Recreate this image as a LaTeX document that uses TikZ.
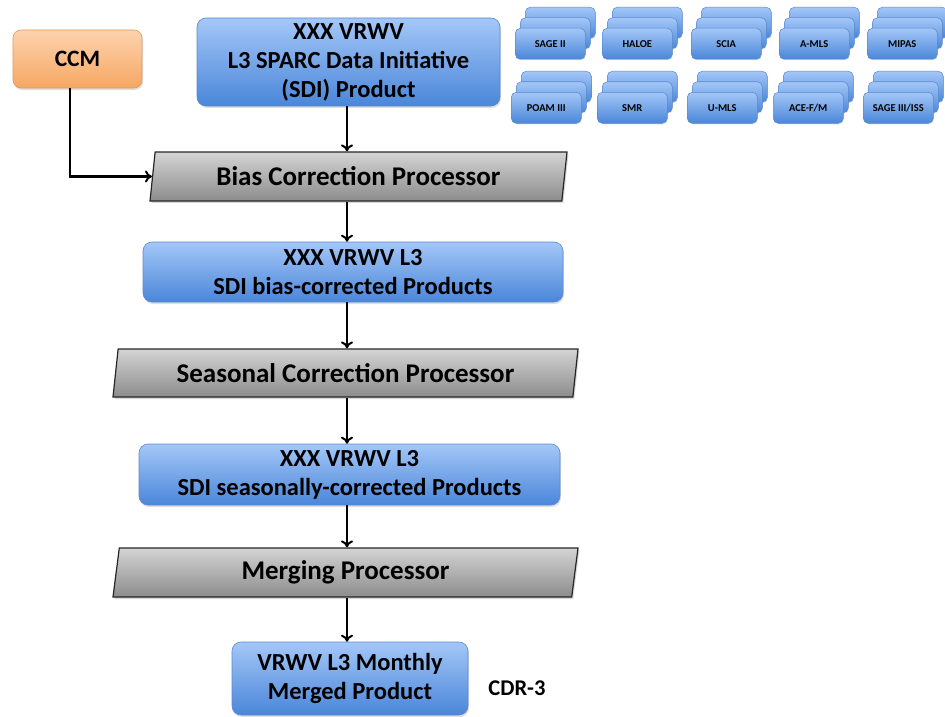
\documentclass[tikz,border=0pt]{standalone}
\usepackage{fontspec}
\setmainfont{Carlito}
\usetikzlibrary{shapes.geometric,arrows.meta,shadows}
\definecolor{bluetop}{HTML}{A4C7F8}
\definecolor{bluebot}{HTML}{4A86D9}
\definecolor{blueline}{HTML}{5A8ACF}
\definecolor{orgtop}{HTML}{FDD3AE}
\definecolor{orgbot}{HTML}{F6A763}
\definecolor{orgline}{HTML}{E59A55}
\definecolor{graytop}{HTML}{D4D4D4}
\definecolor{graybot}{HTML}{8C8C8C}
\tikzset{
  bluebox/.style={draw=blueline, line width=0.6pt, rounded corners=9pt,
    top color=bluetop, bottom color=bluebot, align=center, inner sep=0pt,
    font=\fontsize{24.5}{29}\selectfont\bfseries,
    drop shadow={opacity=0.25, shadow xshift=1pt, shadow yshift=-2pt}},
  orangebox/.style={draw=orgline, line width=0.6pt, rounded corners=8pt,
    top color=orgtop, bottom color=orgbot, align=center, inner sep=0pt,
    font=\fontsize{23.5}{29}\selectfont\bfseries,
    drop shadow={opacity=0.25, shadow xshift=1pt, shadow yshift=-2pt}},
  procbox/.style={trapezium, trapezium left angle=75, trapezium right angle=105,
    trapezium stretches body, draw=black!85, line width=1.2pt,
    top color=graytop, bottom color=graybot, inner sep=0pt,
    font=\fontsize{27}{30}\selectfont\bfseries,
    drop shadow={opacity=0.3, shadow xshift=1.5pt, shadow yshift=-2pt}},
  smallbox/.style={draw=blueline, line width=0.5pt, rounded corners=5pt,
    top color=bluetop, bottom color=bluebot, inner sep=0pt,
    minimum width=70pt, minimum height=31pt,
    font=\fontsize{10.5}{12}\selectfont\bfseries,
    drop shadow={opacity=0.25, shadow xshift=0.6pt, shadow yshift=-1pt}},
  arr/.style={-{To[length=7pt,width=12pt,line width=2pt]}, line width=2.2pt, black},
  lbl/.style={font=\fontsize{22.5}{26}\selectfont\bfseries, inner sep=0pt}
}
\newcommand{\stackbox}[4]{% name, x (front left), y (front top), text
  \node[smallbox, anchor=north west] (#1c) at (#2+10,#3-21) {};
  \node[smallbox, anchor=north west] (#1b) at (#2+5,#3-10.5) {};
  \node[smallbox, anchor=north west] (#1) at (#2,#3) {#4};
}
\begin{document}
\begin{tikzpicture}[x=1pt,y=-1pt]
\useasboundingbox (0,0) rectangle (945,717);
\coordinate (spine) at (347,0);

\node[orangebox, minimum width=129pt, minimum height=58pt] (ccm) at (77.5,59) {CCM};
\node[bluebox, minimum width=303pt, minimum height=88pt] (top) at (348.5,62)
  {XXX VRWV\\L3 SPARC Data Initiative\\(SDI) Product};
\node[procbox, minimum width=417pt, minimum height=49pt] (bias) at (358.5,176.5)
  {Bias Correction Processor};
\node[bluebox, minimum width=420pt, minimum height=60pt] (bc) at (353,272)
  {XXX VRWV L3\\SDI bias-corrected Products};
\node[procbox, minimum width=465pt, minimum height=48pt] (seas) at (345.5,373)
  {Seasonal Correction Processor};
\node[bluebox, minimum width=421pt, minimum height=61pt] (sc) at (349.5,474.5)
  {XXX VRWV L3\\SDI seasonally-corrected Products};
\node[procbox, minimum width=465pt, minimum height=49pt] (merge) at (345.5,572.5)
  {Merging Processor};
\node[bluebox, minimum width=236pt, minimum height=73pt] (final) at (350,678.5)
  {VRWV L3 Monthly\\Merged Product};
\node[lbl] (cdr) at (517,688) {CDR-3};

\stackbox{s1}{515}{28}{SAGE II}
\stackbox{s2}{602}{28}{HALOE}
\stackbox{s3}{691}{28}{SCIA}
\stackbox{s4}{779}{28}{A-MLS}
\stackbox{s5}{867}{28}{MIPAS}
\stackbox{t1}{511}{92}{POAM III}
\stackbox{t2}{597}{92}{SMR}
\stackbox{t3}{687}{92}{U-MLS}
\stackbox{t4}{773}{92}{ACE-F/M}
\stackbox{t5}{863}{92}{SAGE III/ISS}

\draw[arr] (top.south -| spine) -- (bias.north -| spine);
\draw[arr] (bias.south -| spine) -- (bc.north -| spine);
\draw[arr] (bc.south -| spine) -- (seas.north -| spine);
\draw[arr] (seas.south -| spine) -- (sc.north -| spine);
\draw[arr] (sc.south -| spine) -- (merge.north -| spine);
\draw[arr] (merge.south -| spine) -- (final.north -| spine);
\draw[arr] ([xshift=-7.5pt]ccm.south) |- (bias.west);
\end{tikzpicture}
\end{document}
